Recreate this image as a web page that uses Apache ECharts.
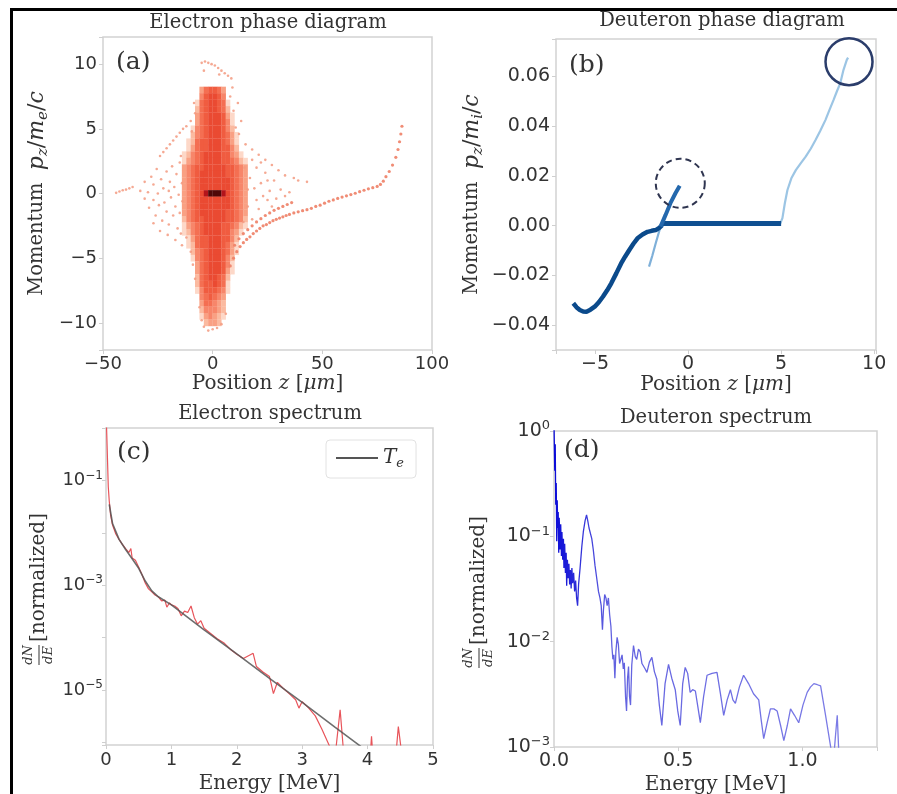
<!DOCTYPE html>
<html><head><meta charset="utf-8">
<script src="https://cdn.jsdelivr.net/npm/echarts@6.0.0/dist/echarts.min.js"></script>
<style>html,body{margin:0;padding:0;background:#fff}#c{width:897px;height:794px}</style>
</head><body><div id="c"></div>
<script>
// ---------- (a) Electron phase diagram ----------
const coreZ = [-13,-11,-9,-7,-5,-3,-1,1,3,5,7,9,11,13,15];
const coreP = [8,7.5,7,6.5,6,5.5,5,4.5,4,3.5,3,2.5,2,1.5,1,0.5,0,-0.5,-1,-1.5,-2,-2.5,-3,-3.5,-4,-4.5,-5,-5.5,-6,-6.5,-7,-7.5,-8,-8.5,-9,-9.5,-10];
const coreDensity = [
"000035665300000","000046776400000","000156776510000","000256776520000",
"000356777631000","000356777641000","001456777642000","002456777653100",
"012566777653100","013566777664200","124567777664310","134567777665421",
"345667777766543","345677777766543","345677777776543","345677777776543",
"345678999876543","345677777776543","345677777776543","345677777766543",
"245667777766542","134567777665421","124567777664310","013566777664200",
"012566777653100","002456777653100","001456777642000","000356777641000",
"000356777631000","000256776520000","000256676510000","000146665410000",
"000045654300000","000035543200000","000024443200000","000013432100000",
"000002332000000"];
const sparseDots = [
[-44,0.05],[-42.5,0.15],[-41,0.25],[-39.5,0.3],[-38,0.4],[-36.5,0.5],
[-33,0.2],[-31,-0.4],[-31,0.9],[-29.5,0.1],[-29,-1.1],[-28,1.3],[-27,-0.5],[-27,0.7],[-26,-1.7],[-25.5,1.9],[-25,0.0],[-24.5,-0.9],[-23.5,1.1],[-23,-2.1],[-22.5,0.4],[-22,-0.7],[-21,1.7],[-21,-1.4],[-20,0.2],[-20,-2.4],[-19.5,0.9],[-19,-0.3],[-18.5,2.1],[-18,-1.7],[-17.5,0.5],[-17,-1.0],[-16.5,1.5],[-16,-2.7],[-15.5,-0.1],[-15,2.4],[-15,-1.5],[-14.5,-3.1],[-14.5,2.9],[-14,0.8],[-13.8,-0.6],[-24,-2.9],[-27,-2.3],[-20.5,-3.2],[-17,-3.6],[-14,-4.0],
[-24,2.9],[-22.5,3.2],[-21,3.5],[-19.5,3.8],[-18,4.1],[-16.5,4.4],[-15,4.7],[-13.5,5.0],[-12,5.2],[-10,5.6],
[-5,10.1],[-3.5,10.2],[-2,10.1],[-0.5,10.0],[1,9.9],[2.5,9.7],[4,9.5],[5.5,9.3],[7,9.1],[8.5,8.9],[-4,9.5],[3,9.2],
[8,7.5],[9.5,6.4],[10.5,5.1],[12,4.6],[11.5,7.0],[13,5.6],[9,8.2],[-8,6.2],[-9.5,4.8],[-8.5,7.0],
[15,3.8],[18,3.4],[21,3.0],[24,2.6],[27,2.2],[30,1.8],[33,1.4],
[14.5,2.0],[16,-1.0],[17,1.2],[18,-2.0],[19,0.4],[20,2.0],[21,-1.2],[22,0.8],[23,-0.2],[24,1.6],[25,-0.5],[26,0.2],[27,-1.0],[28,1.0],[29,-0.4],[31,0.3],[33,-0.2],[35,0.1],[37,1.2],[39,1.0],[43,0.9],[16,0.3],[18,2.6],[14,-2.2],[20,-0.5],[22,2.4],[25,1.0],
[-4,-10.3],[-2,-10.6],[0,-10.5],[2,-10.4],[4,-10.1],[-5,-9.8],[6,-9.3],[-6,-8.8],
[-12,-3.4],[-10,-4.5],[-9,-5.5],[-8,-6.6]];
const streamDots = [
[8,-5.6],[9.5,-5.0],[11,-4.5],[12.5,-4.1],[14,-3.8],[15.5,-3.55],[17,-3.35],[18.5,-3.1],[20,-2.9],[21.5,-2.7],[23,-2.5],[24.5,-2.4],[26,-2.25],[27.5,-2.1],[29,-2.0],[30.5,-1.9],[32,-1.8],[33.5,-1.7],[35,-1.62],[37,-1.5],[39,-1.42],[41,-1.33],[43,-1.25],[45,-1.15],[47,-1.0],[49,-0.9],[51,-0.75],[53,-0.6],[55,-0.5],[57,-0.38],[59,-0.28],[61,-0.18],[63,-0.08],[65,0.02],[67,0.14],[69,0.25],[71,0.36],[73,0.45],[75,0.55],[76.5,0.7],[77.8,0.95],[79,1.3],[80.5,1.7],[82,2.2],[83.5,2.8],[84.5,3.4],[85.2,4.0],[85.8,4.6],[86.3,5.2],
[10,-4.0],[12,-3.5],[14,-3.1],[16,-2.8],[18,-2.5],[20,-2.2],[22,-1.95],[24,-1.7],[26,-1.5],[28,-1.3],[30,-1.15],[32,-1.0],[34,-0.85],[36,-0.7]];

// ---------- (b) Deuteron phase diagram ----------
const darkZ = [-6.17,-6.0,-5.82,-5.64,-5.46,-5.25,-5.02,-4.8,-4.58,-4.35,-4.13,-3.86,-3.6,-3.38,-3.16,-2.94,-2.72,-2.45,-2.18,-1.96,-1.74,-1.55,-1.39];
const darkP = [-0.0312,-0.0328,-0.0339,-0.0345,-0.0346,-0.0338,-0.0326,-0.0308,-0.0286,-0.026,-0.0232,-0.0192,-0.0152,-0.0124,-0.0098,-0.0073,-0.0051,-0.0036,-0.0025,-0.0021,-0.0018,-0.0009,0.0002];
const flatZ = [-1.39, 5.0];
const flatP = [0.0008, 0.0008];
const midZ = [-1.48,-1.21,-0.95,-0.68,-0.45];
const midP = [-0.0004,0.0043,0.009,0.013,0.016];
const lowZ = [-2.1,-1.92,-1.74,-1.6,-1.48];
const lowP = [-0.0165,-0.012,-0.0071,-0.0035,-0.0004];
const rightZ = [4.95,5.07,5.2,5.34,5.55,5.79,6.05,6.32,6.6,6.85,7.1,7.38,7.6,7.82,8.0,8.18,8.35,8.53,8.6];
const rightP = [0.0008,0.003,0.009,0.0143,0.019,0.0223,0.025,0.0277,0.031,0.0344,0.038,0.0424,0.0465,0.0505,0.054,0.0572,0.0625,0.0666,0.0675];
const solidCircle = [8.65, 0.0659];
const dashedCircle = [-0.42, 0.017];

// ---------- (c) Electron spectrum ----------
const elecE = [0.003,0.01,0.02,0.035,0.05,0.07,0.1,0.15,0.2,0.25,0.3,0.35,0.38,0.4,0.45,0.5,0.55,0.6,0.65,0.7,0.75,0.8,0.85,0.9,0.93,0.97,1.0,1.05,1.1,1.15,1.2,1.25,1.3,1.35,1.4,1.45,1.5,1.6,1.7,1.8,1.9,2.0,2.1,2.25,2.3,2.4,2.5,2.56,2.62,2.7,2.8,2.9,2.95,3.0,3.1,3.2,3.3,3.4,3.5,3.58,3.64,3.75,4.0,4.06,4.12,4.38,4.47,4.6,4.7];
const elecN = [1.5,0.9,0.33,0.075,0.04,0.022,0.014,0.0095,0.0075,0.006,0.005,0.0042,0.005,0.0033,0.003,0.0022,0.0016,0.0011,0.00085,0.00075,0.00065,0.0006,0.0005,0.00052,0.00038,0.00046,0.00042,0.0004,0.00036,0.00026,0.00032,0.0003,0.0004,0.00024,0.00018,0.00021,0.00015,0.00012,0.000095,0.00008,0.00006,0.000048,0.00004,0.00005,0.000028,0.000022,0.000018,0.0000085,0.000014,0.000011,0.0000085,0.0000065,0.0000045,0.000006,0.0000045,0.0000032,0.0000018,0.00000095,0.0000005,0.0000042,0.0000005,0.0000005,0.0000001,0.0000013,0.0000001,0.0000001,0.000002,0.0000001,0.0000001];
const fitE = [0.05,0.1,0.2,0.3,0.4,0.5,0.6,0.7,0.8,1.0,1.5,2.0,2.5,3.0,3.5,3.9];
const fitN = [0.035,0.015,0.0075,0.0048,0.0032,0.0021,0.0012,0.00078,0.0006,0.00042,0.00014,0.000049,0.0000166,0.0000058,0.00000195,0.00000083];

// ---------- (d) Deuteron spectrum ----------
const deutE = [0.000,0.003,0.005,0.007,0.009,0.011,0.013,0.015,0.017,0.019,0.021,0.024,0.027,0.030,0.032,0.035,0.038,0.040,0.043,0.046,0.049,0.051,0.054,0.057,0.060,0.063,0.066,0.069,0.072,0.075,0.079,0.083,0.087,0.091,0.095,0.099,0.105,0.112,0.118,0.125,0.131,0.136,0.141,0.146,0.152,0.158,0.165,0.172,0.179,0.185,0.190,0.195,0.199,0.204,0.209,0.214,0.219,0.224,0.229,0.233,0.237,0.241,0.245,0.249,0.254,0.259,0.264,0.269,0.274,0.279,0.283,0.288,0.292,0.296,0.300,0.304,0.308,0.313,0.320,0.327,0.333,0.340,0.347,0.354,0.360,0.367,0.374,0.384,0.394,0.404,0.414,0.424,0.434,0.447,0.461,0.474,0.488,0.498,0.508,0.518,0.528,0.538,0.548,0.558,0.569,0.579,0.589,0.602,0.616,0.636,0.656,0.670,0.683,0.697,0.710,0.720,0.730,0.746,0.763,0.783,0.803,0.824,0.834,0.844,0.858,0.871,0.885,0.898,0.912,0.925,0.939,0.952,0.968,0.985,1.002,1.019,1.032,1.046,1.060,1.073,1.093,1.113,1.124,1.132,1.140,1.147,1.152];
const deutN = [1.2,0.42,0.75,0.20,0.32,0.09,0.22,0.12,0.17,0.07,0.15,0.075,0.13,0.065,0.11,0.06,0.095,0.05,0.085,0.045,0.07,0.034,0.06,0.04,0.055,0.035,0.048,0.032,0.05,0.036,0.045,0.03,0.038,0.026,0.022,0.035,0.05,0.08,0.11,0.14,0.16,0.14,0.12,0.12,0.095,0.075,0.053,0.04,0.03,0.026,0.022,0.013,0.02,0.028,0.026,0.022,0.026,0.018,0.014,0.009,0.0068,0.0075,0.0045,0.008,0.011,0.0095,0.0062,0.0068,0.0075,0.0055,0.0063,0.003,0.0022,0.0045,0.0058,0.003,0.0025,0.006,0.0092,0.0072,0.0068,0.0085,0.008,0.0062,0.0063,0.0055,0.0051,0.0064,0.0071,0.0052,0.0044,0.0025,0.0016,0.004,0.0061,0.0045,0.0035,0.0022,0.0016,0.004,0.0057,0.005,0.0033,0.0035,0.0034,0.0024,0.0017,0.003,0.0048,0.005,0.0051,0.0032,0.002,0.0028,0.0035,0.0028,0.0026,0.0037,0.0048,0.004,0.0032,0.0028,0.0018,0.0012,0.0017,0.0023,0.0023,0.0022,0.0016,0.00115,0.0016,0.0023,0.002,0.0017,0.0025,0.0033,0.0037,0.004,0.0039,0.0038,0.002,0.00102,0.0007,0.0012,0.002,0.0008,0.0005];

// ---------- build ----------
const SERIF = '"DejaVu Serif", serif';
const SANS = '"DejaVu Sans", sans-serif';
const TXT = '#333333';
const zip = (a, b) => a.map((v, i) => [v, b[i]]);

const coreCells = [];
coreDensity.forEach((row, i) => {
  for (let j = 0; j < row.length; j++) {
    const v = +row[j];
    if (v > 0) coreCells.push([coreZ[j], coreP[i], v]);
  }
});

function linFmt(step, dec) {
  return function (v) {
    const k = v / step;
    if (Math.abs(k - Math.round(k)) > 1e-6) return '';
    return (v < -1e-12 ? '\u2212' : '') + Math.abs(v).toFixed(dec);
  };
}
function logFmt(shown) {
  return function (v) {
    const e = Math.log10(v), r = Math.round(e);
    if (Math.abs(e - r) > 1e-6 || shown.indexOf(r) < 0) return '';
    return '{b|10}{e|' + (r < 0 ? '\u2212' : '') + Math.abs(r) + '}';
  };
}
function nameRich(fs, ms) {
  ms = ms || fs;
  return {
    fontFamily: SERIF, fontSize: fs, color: TXT,
    rich: {
      n: { fontFamily: SERIF, fontSize: fs, color: TXT, lineHeight: ms + 6 },
      i: { fontFamily: SERIF, fontStyle: 'italic', fontSize: ms, color: TXT, lineHeight: ms + 6 },
      m: { fontFamily: SERIF, fontSize: ms, color: TXT, lineHeight: ms + 6 },
      s: { fontFamily: SERIF, fontStyle: 'italic', fontSize: Math.round(ms * 0.68), color: TXT, verticalAlign: 'bottom', lineHeight: Math.round(ms * 0.72) }
    }
  };
}
function axis(o, fs, labelExtra) {
  const base = {
    type: 'value',
    splitLine: { show: false },
    axisLine: { show: false, onZero: false },
    axisTick: { show: true, length: 4, lineStyle: { color: '#cfcfcf', width: 1 } },
    nameLocation: 'middle'
  };
  const lab = { fontFamily: SANS, fontSize: fs, color: TXT,
    rich: { b: { fontFamily: SANS, fontSize: fs, color: TXT, lineHeight: fs + 4 },
            e: { fontFamily: SANS, fontSize: Math.round(fs * 0.66), color: TXT, verticalAlign: 'top', lineHeight: Math.round(fs * 0.66) } } };
  return Object.assign(base, o, { axisLabel: Object.assign(lab, labelExtra) });
}
const gridBase = { show: true, borderColor: '#d2d2d2', borderWidth: 1.5, backgroundColor: 'transparent', containLabel: false, outerBoundsMode: 'none' };
const titleStyle = { fontFamily: SERIF, fontSize: 19.5, fontWeight: 'normal', color: TXT };
const panelStyle = { fontFamily: SERIF, fontSize: 25, fontWeight: 'normal', color: TXT };

const posName = '{n|Position }{i|z}{n| [}{i|\u03bcm}{n|]}';
const option = {
  animation: false,
  backgroundColor: '#ffffff',
  title: [
    { text: 'Electron phase diagram', left: 268, top: 13, textAlign: 'center', padding: 0, textStyle: titleStyle },
    { text: 'Deuteron phase diagram', left: 722, top: 11, textAlign: 'center', padding: 0, textStyle: titleStyle },
    { text: 'Electron spectrum', left: 270, top: 404, textAlign: 'center', padding: 0, textStyle: titleStyle },
    { text: 'Deuteron spectrum', left: 716, top: 408, textAlign: 'center', padding: 0, textStyle: titleStyle },
    { text: '(a)', left: 116, top: 50, padding: 0, textStyle: panelStyle },
    { text: '(b)', left: 569, top: 53, padding: 0, textStyle: panelStyle },
    { text: '(c)', left: 117, top: 440, padding: 0, textStyle: panelStyle },
    { text: '(d)', left: 564, top: 438, padding: 0, textStyle: panelStyle }
  ],
  grid: [
    Object.assign({ left: 103, top: 37, width: 329, height: 313 }, gridBase),
    Object.assign({ left: 556, top: 39, width: 320, height: 311 }, gridBase),
    Object.assign({ left: 106, top: 428, width: 327, height: 317 }, gridBase),
    Object.assign({ left: 554, top: 431, width: 323, height: 316 }, gridBase)
  ],
  xAxis: [
    axis({ gridIndex: 0, min: -50, max: 100, splitNumber: 3, name: posName, nameGap: 21, nameTextStyle: nameRich(20) }, 18, { formatter: linFmt(50, 0), margin: 5 }),
    axis({ gridIndex: 1, min: -7.1, max: 10.1, splitNumber: 4, name: posName, nameGap: 21, nameTextStyle: nameRich(20) }, 19, { formatter: linFmt(5, 0), margin: 5 }),
    axis({ gridIndex: 2, min: 0, max: 5, interval: 1, name: '{n|Energy [MeV]}', nameGap: 26, nameTextStyle: nameRich(20) }, 18, { formatter: linFmt(1, 0), margin: 6 }),
    axis({ gridIndex: 3, min: 0, max: 1.3, interval: 0.5, name: '{n|Energy [MeV]}', nameGap: 25, nameTextStyle: nameRich(20) }, 19, { formatter: linFmt(0.5, 1), margin: 5 })
  ],
  yAxis: [
    axis({ gridIndex: 0, min: -12.1, max: 12.1, splitNumber: 5, nameRotate: 90, nameGap: 52,
      name: '{n|Momentum  }{i|p}{s|z}{m|/}{i|m}{s|e}{m|/}{i|c}', nameTextStyle: nameRich(19.5, 22) }, 18, { formatter: linFmt(5, 0), margin: 6 }),
    axis({ gridIndex: 1, min: -0.05, max: 0.075, splitNumber: 6, nameRotate: 90, nameGap: 70,
      name: '{n|Momentum  }{i|p}{s|z}{m|/}{i|m}{s|i}{m|/}{i|c}', nameTextStyle: nameRich(19.5, 22) }, 19, { formatter: linFmt(0.02, 2), margin: 6 }),
    axis({ gridIndex: 2, type: 'log', logBase: 10, min: 8.9e-7, max: 1 }, 18, { formatter: logFmt([-1, -3, -5]), margin: 3 }),
    axis({ gridIndex: 3, type: 'log', logBase: 10, min: 0.001, max: 1 }, 19, { formatter: logFmt([0, -1, -2, -3]), margin: 4 })
  ],
  visualMap: [{
    type: 'continuous', show: false, seriesIndex: 0, dimension: 2, min: 1, max: 9,
    inRange: { color: ['#fdd8c8', '#fbbaa0', '#f9a083', '#f7866a', '#f46f52', '#f05c40', '#ea4a32', '#b3141b', '#4f0808'] }
  }],
  legend: {
    data: [{ name: 'Te', icon: 'rect' }], left: 326, top: 440, orient: 'horizontal',
    itemWidth: 42, itemHeight: 2, itemGap: 8, padding: [8, 12, 8, 10],
    backgroundColor: '#ffffff', borderColor: '#e2e2e2', borderWidth: 1, borderRadius: 4,
    formatter: function () { return '{i|T}{s|e}'; },
    textStyle: { fontFamily: SERIF, fontSize: 20, color: TXT,
      rich: { i: { fontFamily: SERIF, fontStyle: 'italic', fontSize: 20, color: TXT, lineHeight: 24 },
              s: { fontFamily: SERIF, fontStyle: 'italic', fontSize: 13, color: TXT, verticalAlign: 'bottom', lineHeight: 14 } } }
  },
  series: [
    { type: 'scatter', xAxisIndex: 0, yAxisIndex: 0, symbol: 'rect', symbolSize: [4.6, 6.7], data: coreCells, itemStyle: { opacity: 1 }, silent: true, z: 2 },
    { type: 'scatter', xAxisIndex: 0, yAxisIndex: 0, symbol: 'circle', symbolSize: 2.6, data: sparseDots, itemStyle: { color: '#f39a80', opacity: 0.85 }, silent: true, z: 3 },
    { type: 'scatter', xAxisIndex: 0, yAxisIndex: 0, symbol: 'circle', symbolSize: 3.2, data: streamDots, itemStyle: { color: '#ee7f66', opacity: 0.9 }, silent: true, z: 3 },

    { type: 'line', xAxisIndex: 1, yAxisIndex: 1, data: zip(rightZ, rightP), symbol: 'none', lineStyle: { color: '#9cc5e4', width: 2.2 }, z: 2 },
    { type: 'line', xAxisIndex: 1, yAxisIndex: 1, data: zip(lowZ, lowP), symbol: 'none', lineStyle: { color: '#7fb0d9', width: 2.2 }, z: 2 },
    { type: 'line', xAxisIndex: 1, yAxisIndex: 1, data: zip(darkZ, darkP), symbol: 'none', lineStyle: { color: '#0b4a8b', width: 4.5 }, z: 3 },
    { type: 'line', xAxisIndex: 1, yAxisIndex: 1, data: zip(flatZ, flatP), symbol: 'none', lineStyle: { color: '#0f4f91', width: 5 }, z: 3 },
    { type: 'line', xAxisIndex: 1, yAxisIndex: 1, data: zip(midZ, midP), symbol: 'none', lineStyle: { color: '#2468ad', width: 4 }, z: 4 },
    { type: 'scatter', xAxisIndex: 1, yAxisIndex: 1, data: [solidCircle], symbol: 'circle', symbolSize: 47,
      itemStyle: { color: 'rgba(0,0,0,0)', borderColor: '#2b3d6b', borderWidth: 2.5, opacity: 1 }, silent: true, z: 5 },
    { type: 'scatter', xAxisIndex: 1, yAxisIndex: 1, data: [dashedCircle], symbol: 'circle', symbolSize: 49,
      itemStyle: { color: 'rgba(0,0,0,0)', borderColor: '#2f3550', borderWidth: 2, borderType: [6, 4], opacity: 1 }, silent: true, z: 5 },

    { type: 'line', xAxisIndex: 2, yAxisIndex: 2, data: zip(elecE, elecN), symbol: 'none', lineStyle: { color: '#e8545a', width: 1.2 }, z: 2 },
    { type: 'line', name: 'Te', xAxisIndex: 2, yAxisIndex: 2, data: zip(fitE, fitN), symbol: 'none', itemStyle: { color: '#555555' }, lineStyle: { color: '#555555', width: 1.6, opacity: 0.85 }, z: 3 },

    { type: 'line', xAxisIndex: 3, yAxisIndex: 3, data: zip(deutE, deutN), symbol: 'none',
      lineStyle: { width: 1.3, color: { type: 'linear', x: 0, y: 0, x2: 1, y2: 0,
        colorStops: [{ offset: 0, color: '#0808d8' }, { offset: 0.08, color: '#2828d8' }, { offset: 0.2, color: '#6262e0' }, { offset: 1, color: '#7c7ce6' }] } }, z: 2 }
  ],
  graphic: [
    { type: 'rect', silent: true, shape: { x: 11.5, y: 9.5, width: 900, height: 800 }, style: { fill: 'none', stroke: '#000000', lineWidth: 3 } },
    { type: 'group', x: 39, y: 655, rotation: Math.PI / 2, silent: true, children: [
      { type: 'text', x: 0, y: -10, style: { text: 'dN', font: 'italic 13px "DejaVu Serif"', fill: TXT, align: 'center', verticalAlign: 'middle', textAlign: 'center', textVerticalAlign: 'middle' } },
      { type: 'line', shape: { x1: -10, y1: 0, x2: 10, y2: 0 }, style: { stroke: TXT, lineWidth: 1 } },
      { type: 'text', x: 0, y: 10, style: { text: 'dE', font: 'italic 13px "DejaVu Serif"', fill: TXT, align: 'center', verticalAlign: 'middle', textAlign: 'center', textVerticalAlign: 'middle' } },
      { type: 'text', x: 13, y: 0, style: { text: '[normalized]', font: '20px "DejaVu Serif"', fill: TXT, align: 'left', verticalAlign: 'middle', textAlign: 'left', textVerticalAlign: 'middle' } }
    ] },
    { type: 'group', x: 479, y: 658, rotation: Math.PI / 2, silent: true, children: [
      { type: 'text', x: 0, y: -10, style: { text: 'dN', font: 'italic 13px "DejaVu Serif"', fill: TXT, align: 'center', verticalAlign: 'middle', textAlign: 'center', textVerticalAlign: 'middle' } },
      { type: 'line', shape: { x1: -10, y1: 0, x2: 10, y2: 0 }, style: { stroke: TXT, lineWidth: 1 } },
      { type: 'text', x: 0, y: 10, style: { text: 'dE', font: 'italic 13px "DejaVu Serif"', fill: TXT, align: 'center', verticalAlign: 'middle', textAlign: 'center', textVerticalAlign: 'middle' } },
      { type: 'text', x: 13, y: 0, style: { text: '[normalized]', font: '20px "DejaVu Serif"', fill: TXT, align: 'left', verticalAlign: 'middle', textAlign: 'left', textVerticalAlign: 'middle' } }
    ] }
  ]
};
const chart = echarts.init(document.getElementById('c'), null, { renderer: 'canvas' });
chart.setOption(option);
</script></body></html>
